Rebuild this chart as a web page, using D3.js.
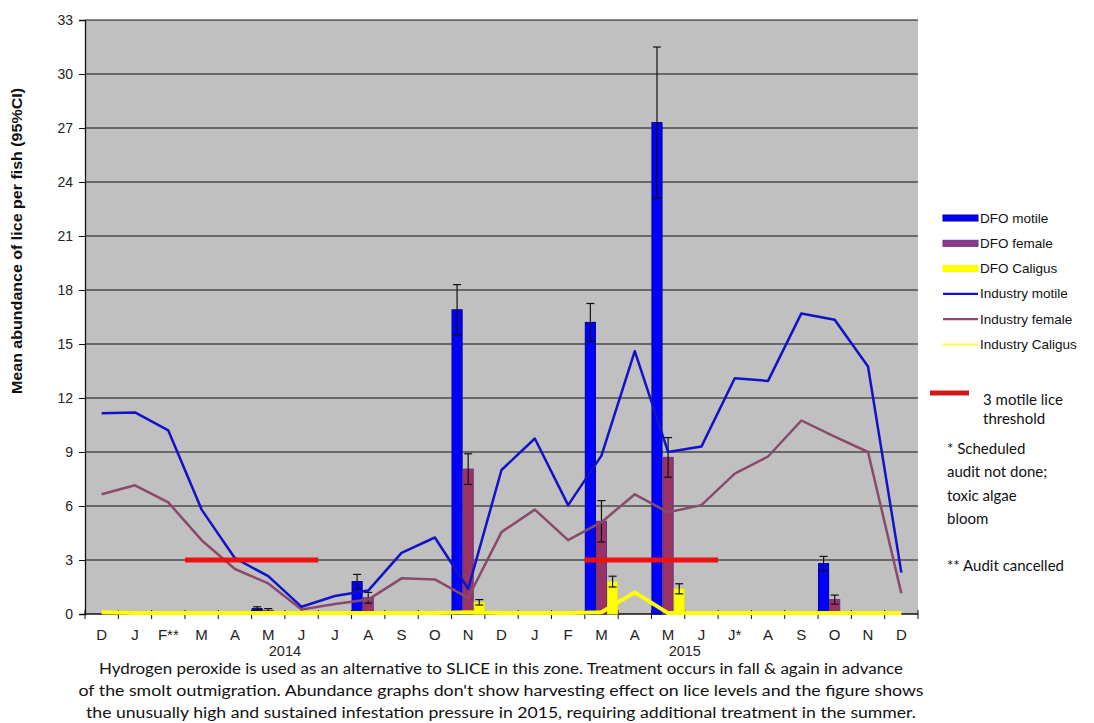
<!DOCTYPE html>
<html>
<head>
<meta charset="utf-8">
<script src="https://cdn.jsdelivr.net/npm/d3@7"></script>
<style>
  body { margin: 0; background: #fff; }
  svg { display: block; }
  .tick text { font-family: Arial, "Liberation Sans", sans-serif; }
</style>
</head>
<body>
<svg id="chart" width="1094" height="723"></svg>
<script>
// categories (Dec 2013 .. Dec 2015)
const months = ['D','J','F**','M','A','M','J','J','A','S','O','N','D','J','F','M','A','M','J','J*','A','S','O','N','D'];
const yTicks = [0, 3, 6, 9, 12, 15, 18, 21, 24, 27, 30, 33];

// DFO audits (bars), null = no audit
const dfoMotile    = [null,null,null,null,null,0.3,null,null,1.8,null,null,16.9,null,null,null,16.2,null,27.3,null,null,null,null,2.8,null,null];
const dfoMotileCI  = [null,null,null,null,null,0.1,null,null,0.4,null,null,1.4,null,null,null,1.05,null,4.2,null,null,null,null,0.4,null,null];
const dfoFemale    = [null,null,null,null,null,0.2,null,null,0.9,null,null,8.05,null,null,null,5.15,null,8.7,null,null,null,null,0.8,null,null];
const dfoFemaleCI  = [null,null,null,null,null,0.1,null,null,0.3,null,null,0.85,null,null,null,1.15,null,1.1,null,null,null,null,0.25,null,null];
const dfoCaligus   = [null,null,null,null,null,0,null,null,0,null,null,0.65,null,null,null,1.8,null,1.4,null,null,null,null,0,null,null];
const dfoCaligusCI = [null,null,null,null,null,null,null,null,null,null,null,0.15,null,null,null,0.3,null,0.28,null,null,null,null,null,null,null];

// industry monthly counts (lines)
const industryMotile  = [11.15,11.2,10.2,5.8,3.1,2.1,0.4,1.0,1.3,3.4,4.25,1.4,8.0,9.75,6.05,8.8,14.6,9.0,9.3,13.1,12.95,16.7,16.35,13.75,2.3];
const industryFemale  = [6.65,7.15,6.2,4.1,2.5,1.7,0.25,0.55,0.8,1.98,1.92,0.9,4.55,5.8,4.1,5.1,6.65,5.65,6.05,7.8,8.75,10.75,9.85,9.0,1.15];
const industryCaligus = [0.1,0.05,0.05,0.05,0.05,0.05,0.05,0.05,0.05,0.05,0.05,0.1,0.05,0.05,0.05,0.1,1.2,0.05,0.05,0.05,0.05,0.05,0.05,0.05,0.05];

// threshold of 3 motile lice, drawn over month ranges (first, last index)
const thresholdValue = 3;
const thresholdSpans = [[3, 6], [15, 18]];

const years = [{ label: '2014', at: 6 }, { label: '2015', at: 18 }];

const captionLines = [
  "Hydrogen peroxide is used as an alternative to SLICE in this zone. Treatment occurs in fall & again in advance",
  "of the smolt outmigration. Abundance graphs don't show harvesting effect on lice levels and the figure shows",
  "the unusually high and sustained infestation pressure in 2015, requiring additional treatment in the summer."
];

const svg = d3.select('#chart');
const plotLeft = 85, plotRight = 918, plotTop = 20, plotBottom = 614;

const x = d3.scaleBand().domain(d3.range(months.length)).range([plotLeft, plotRight]).padding(0);
const x1 = d3.scaleBand().domain(['motile', 'female', 'caligus']).range([0, x.bandwidth()]).padding(0);
const y = d3.scaleLinear().domain([0, 33]).range([plotBottom, plotTop]);

svg.append('rect').attr('width', 1094).attr('height', 723).attr('fill', '#fff');
svg.append('rect').attr('x', plotLeft).attr('y', plotTop).attr('width', plotRight - plotLeft).attr('height', plotBottom - plotTop).attr('fill', '#c0c0c0');

// gridlines
svg.append('g').selectAll('line').data(yTicks.filter(d => d > 0)).enter().append('line')
  .attr('x1', plotLeft).attr('x2', plotRight)
  .attr('y1', d => y(d)).attr('y2', d => y(d))
  .attr('stroke', '#111').attr('stroke-width', 1.2);

// y axis
const yAxis = svg.append('g').attr('transform', `translate(${plotLeft},0)`)
  .call(d3.axisLeft(y).tickValues(yTicks).tickSize(6).tickPadding(6));
yAxis.select('.domain').attr('stroke', '#111').attr('stroke-width', 1.3);
yAxis.selectAll('.tick line').attr('stroke', '#111');
yAxis.selectAll('.tick text').attr('font-size', 14).attr('fill', '#222');

// x axis line and boundary ticks
svg.append('line').attr('x1', plotLeft).attr('x2', plotRight).attr('y1', plotBottom).attr('y2', plotBottom)
  .attr('stroke', '#111').attr('stroke-width', 1.3);
svg.append('g').selectAll('line').data(d3.range(months.length + 1)).enter().append('line')
  .attr('x1', i => plotLeft + i * x.bandwidth()).attr('x2', i => plotLeft + i * x.bandwidth())
  .attr('y1', plotBottom - 4).attr('y2', plotBottom + 5)
  .attr('stroke', '#111').attr('stroke-width', 1);

svg.append('g').selectAll('text').data(months).enter().append('text')
  .attr('x', (d, i) => x(i) + x.bandwidth() / 2).attr('y', 640)
  .attr('text-anchor', 'middle')
  .attr('font-family', 'Arial, "Liberation Sans", sans-serif').attr('font-size', 15).attr('fill', '#222')
  .text(d => d);

svg.append('g').selectAll('text').data(years).enter().append('text')
  .attr('x', d => x(d.at)).attr('y', 656)
  .attr('text-anchor', 'middle')
  .attr('font-family', 'Arial, "Liberation Sans", sans-serif').attr('font-size', 14.5).attr('fill', '#222')
  .text(d => d.label);

// bars
const barSeries = [
  { key: 'motile', values: dfoMotile, ci: dfoMotileCI, fill: '#0000ff', stroke: '#00008b' },
  { key: 'female', values: dfoFemale, ci: dfoFemaleCI, fill: '#993366', stroke: '#6a3088' },
  { key: 'caligus', values: dfoCaligus, ci: dfoCaligusCI, fill: '#ffff00', stroke: '#e8e800' }
];
barSeries.forEach(s => {
  const pts = s.values.map((v, i) => ({ i, v, ci: s.ci[i] })).filter(d => d.v !== null);
  svg.append('g').selectAll('rect').data(pts).enter().append('rect')
    .attr('x', d => x(d.i) + x1(s.key) + 0.5)
    .attr('width', x1.bandwidth() - 1)
    .attr('y', d => y(d.v))
    .attr('height', d => y(0) - y(d.v))
    .attr('fill', s.fill).attr('stroke', s.stroke).attr('stroke-width', 1);
  const errs = pts.filter(d => d.ci !== null && d.ci > 0);
  const g = svg.append('g').attr('stroke', '#111').attr('stroke-width', 1.2);
  errs.forEach(d => {
    const cx = x(d.i) + x1(s.key) + x1.bandwidth() / 2;
    g.append('line').attr('x1', cx).attr('x2', cx).attr('y1', y(d.v + d.ci)).attr('y2', y(Math.max(0, d.v - d.ci)));
    g.append('line').attr('x1', cx - 4).attr('x2', cx + 4).attr('y1', y(d.v + d.ci)).attr('y2', y(d.v + d.ci));
    g.append('line').attr('x1', cx - 4).attr('x2', cx + 4).attr('y1', y(Math.max(0, d.v - d.ci))).attr('y2', y(Math.max(0, d.v - d.ci)));
  });
});

// industry lines
const line = d3.line().x((d, i) => x(i) + x.bandwidth() / 2).y(d => y(d));
const lineSeries = [
  { values: industryCaligus, color: '#ffff00', width: 4 },
  { values: industryFemale, color: '#8a4a6c', width: 2.5 },
  { values: industryMotile, color: '#1212c8', width: 2.5 }
];
lineSeries.forEach(s => {
  svg.append('path').datum(s.values).attr('d', line)
    .attr('fill', 'none').attr('stroke', s.color).attr('stroke-width', s.width)
    .attr('stroke-linejoin', 'round');
});

// threshold
svg.append('g').selectAll('line').data(thresholdSpans).enter().append('line')
  .attr('x1', d => x(d[0])).attr('x2', d => x(d[1]) + x.bandwidth())
  .attr('y1', y(thresholdValue)).attr('y2', y(thresholdValue))
  .attr('stroke', '#f01010').attr('stroke-width', 5);

// y title
svg.append('text')
  .attr('transform', 'translate(22,241) rotate(-90)')
  .attr('text-anchor', 'middle')
  .attr('font-family', 'Arial, "Liberation Sans", sans-serif').attr('font-weight', 'bold').attr('font-size', 14.5)
  .attr('textLength', 306).attr('lengthAdjust', 'spacingAndGlyphs')
  .attr('fill', '#111')
  .text('Mean abundance of lice per fish (95%CI)');

// legend
const legendItems = [
  { label: 'DFO motile', type: 'bar', fill: '#0000ff', stroke: '#00008b' },
  { label: 'DFO female', type: 'bar', fill: '#8a3a88', stroke: '#6a3090' },
  { label: 'DFO Caligus', type: 'bar', fill: '#ffff00', stroke: '#ffff00' },
  { label: 'Industry motile', type: 'line', color: '#1212c8' },
  { label: 'Industry female', type: 'line', color: '#8a4a6c' },
  { label: 'Industry Caligus', type: 'line', color: '#ffff40' }
];
const lg = svg.append('g');
legendItems.forEach((d, i) => {
  const ly = 218 + i * 25.3;
  if (d.type === 'bar') {
    lg.append('rect').attr('x', 943).attr('y', ly - 3).attr('width', 35).attr('height', 6)
      .attr('fill', d.fill).attr('stroke', d.stroke).attr('stroke-width', 1);
  } else {
    lg.append('line').attr('x1', 943).attr('x2', 978).attr('y1', ly).attr('y2', ly)
      .attr('stroke', d.color).attr('stroke-width', 2.2);
  }
  lg.append('text').attr('x', 980).attr('y', ly + 4.5)
    .attr('font-family', 'Arial, "Liberation Sans", sans-serif').attr('font-size', 13.5).attr('fill', '#111')
    .text(d.label);
});

lg.append('line').attr('x1', 930).attr('x2', 969).attr('y1', 393).attr('y2', 393)
  .attr('stroke', '#d01818').attr('stroke-width', 5);
const noteFont = 'Lato, "Open Sans", sans-serif';
const notes = [
  { t: '3 motile lice', x: 983, y: 405 },
  { t: 'threshold', x: 983, y: 424 },
  { t: '* Scheduled', x: 947, y: 454 },
  { t: 'audit not done;', x: 947, y: 477 },
  { t: 'toxic algae', x: 947, y: 501 },
  { t: 'bloom', x: 947, y: 524 },
  { t: '** Audit cancelled', x: 947, y: 571 }
];
lg.selectAll('text.note').data(notes).enter().append('text').attr('class', 'note')
  .attr('x', d => d.x).attr('y', d => d.y)
  .attr('font-family', noteFont).attr('font-size', 15).attr('fill', '#111')
  .text(d => d.t);

// caption
const capWidths = [804, 845, 830];
svg.append('g').selectAll('text').data(captionLines).enter().append('text')
  .attr('x', 501).attr('y', (d, i) => 674 + i * 22)
  .attr('text-anchor', 'middle')
  .attr('font-family', noteFont).attr('font-size', 15.5).attr('fill', '#111')
  .attr('textLength', (d, i) => capWidths[i]).attr('lengthAdjust', 'spacingAndGlyphs')
  .text(d => d);
</script>
</body>
</html>
